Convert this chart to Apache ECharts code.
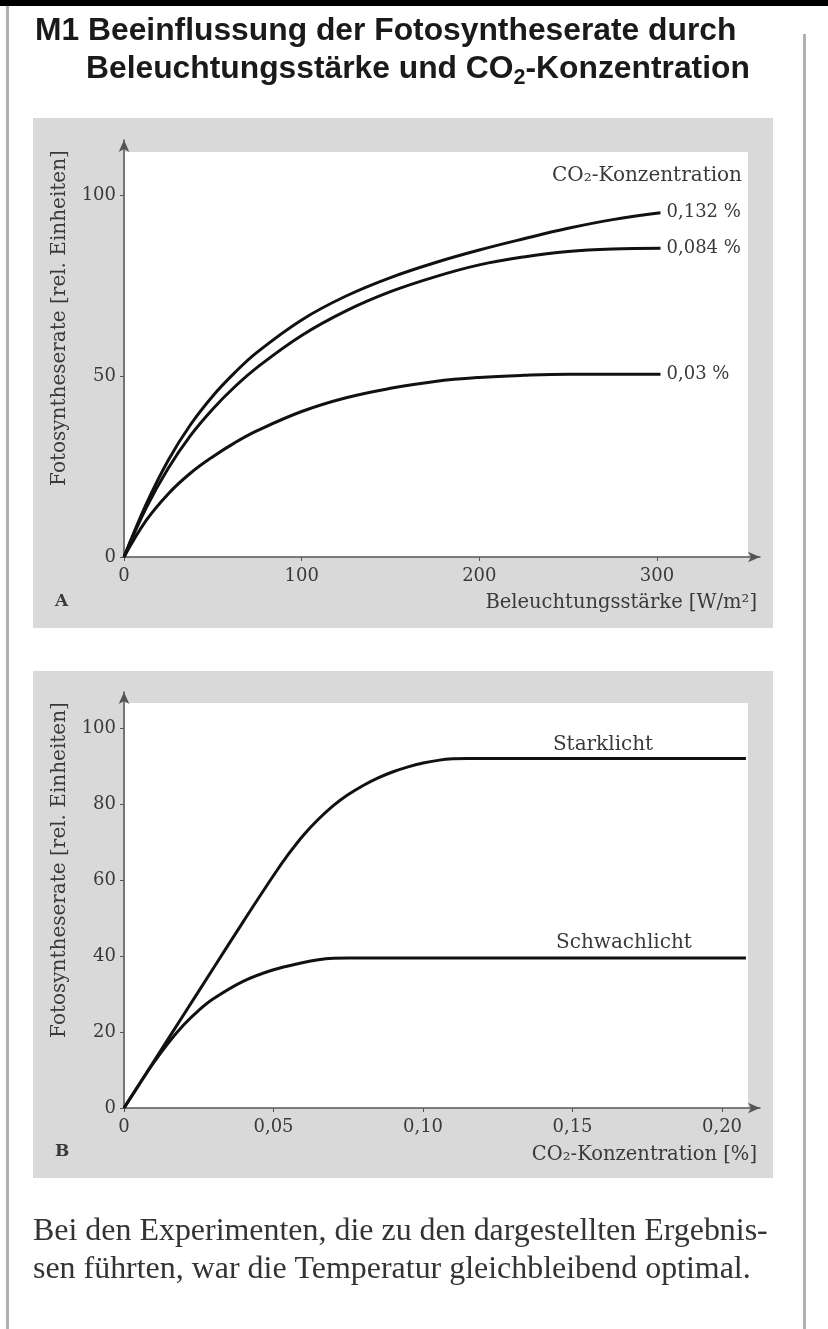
<!DOCTYPE html>
<html><head><meta charset="utf-8">
<script src="https://cdn.jsdelivr.net/npm/echarts@6/dist/echarts.min.js"></script>
<style>html,body{margin:0;padding:0;background:#fff}#c{width:828px;height:1329px}</style>
</head><body><div id="c"></div>
<script>
// ---- Data: chart A (light intensity) ----
const irradiance = [0, 12.5, 25, 37.5, 50, 62.5, 75, 100, 125, 150, 175, 200, 225, 250, 275, 302];
const rateCO2_0132 = [0, 14.6, 26.8, 36.6, 44.5, 51, 56.6, 65.5, 72.1, 77.2, 81.3, 84.8, 87.9, 90.8, 93.2, 95.1];
const rateCO2_0084 = [0, 13.6, 24.6, 33.6, 40.9, 47.1, 52.4, 61.2, 68, 73.3, 77.4, 80.7, 82.9, 84.4, 85.1, 85.3];
const rateCO2_003  = [0, 10.1, 17.5, 23.2, 27.7, 31.6, 34.9, 40.2, 44, 46.6, 48.5, 49.6, 50.2, 50.5, 50.5, 50.5];
const namesA = ['0,132 %', '0,084 %', '0,03 %'];
const ticksAx = [0, 100, 200, 300];
const ticksAy = [0, 50, 100];

// ---- Data: chart B (CO2 concentration) ----
const co2Strong  = [0, 0.01, 0.02, 0.03, 0.04, 0.05, 0.055, 0.06, 0.065, 0.07, 0.075, 0.08, 0.085, 0.09, 0.095, 0.1, 0.105, 0.11, 0.115, 0.15, 0.208];
const rateStrong = [0, 12.3, 24.6, 36.9, 49.2, 61.2, 66.8, 71.8, 76, 79.6, 82.5, 84.9, 86.9, 88.5, 89.8, 90.8, 91.5, 91.9, 92, 92, 92];
const co2Weak    = [0, 0.005, 0.01, 0.015, 0.02, 0.025, 0.03, 0.04, 0.05, 0.06, 0.065, 0.07, 0.075, 0.15, 0.208];
const rateWeak   = [0, 6.1, 12, 17.3, 21.9, 25.7, 28.8, 33.4, 36.4, 38.3, 39.0, 39.4, 39.5, 39.5, 39.5];
const namesB = ['Starklicht', 'Schwachlicht'];
const ticksBx = [0, 0.05, 0.10, 0.15, 0.20];
const ticksBy = [0, 20, 40, 60, 80, 100];

const serif = 'DejaVu Serif';
const sans = 'Liberation Sans';
const axisColor = '#555';
const txt = '#3a3a3a';
const lineCol = '#111';

function zip(xs, ys) { return xs.map((x, i) => [x, ys[i]]); }
const ctx = document.createElement('canvas').getContext('2d');
function measure(text, font) { ctx.font = font; return ctx.measureText(text).width; }

function axis(gridIndex, min, max, ticks, fmt, isX) {
  return {
    type: 'value', gridIndex, min, max,
    axisLine: { show: true, lineStyle: { color: axisColor, width: 1.5 }, symbol: ['none', 'arrow'], symbolSize: [8, 12] },
    axisTick: { show: true, customValues: ticks, length: 4, lineStyle: { color: axisColor, width: 1 } },
    axisLabel: { customValues: ticks, formatter: fmt, margin: isX ? 10 : 8, fontFamily: serif, fontSize: 18, color: txt },
    splitLine: { show: false }
  };
}
const fmtInt = v => String(v);
const fmtB = v => v === 0 ? '0' : v.toFixed(2).replace('.', ',');

const lineBase = { type: 'line', symbol: 'none', smooth: 0.4, lineStyle: { color: lineCol, width: 3 }, silent: true };

const seriesA = [rateCO2_0132, rateCO2_0084, rateCO2_003].map((ys, i) => Object.assign({}, lineBase, {
  name: namesA[i], xAxisIndex: 0, yAxisIndex: 0, data: zip(irradiance, ys),
  endLabel: { show: true, formatter: '{a}', distance: 6, fontFamily: serif, fontSize: 18, color: txt }
}));
const seriesB = [
  Object.assign({}, lineBase, { name: namesB[0], xAxisIndex: 1, yAxisIndex: 1, data: zip(co2Strong, rateStrong),
    markPoint: { silent: true, symbol: 'rect', symbolSize: 0, data: [{ coord: [0.1602, 92] }],
      label: { show: true, position: 'top', distance: 4, formatter: namesB[0], fontFamily: serif, fontSize: 20, color: txt } } }),
  Object.assign({}, lineBase, { name: namesB[1], xAxisIndex: 1, yAxisIndex: 1, data: zip(co2Weak, rateWeak),
    markPoint: { silent: true, symbol: 'rect', symbolSize: 0, data: [{ coord: [0.1672, 39.5] }],
      label: { show: true, position: 'top', distance: 5, formatter: namesB[1], fontFamily: serif, fontSize: 20, color: txt } } })
];

const T = (x, y, text, style, extra) => Object.assign({ type: 'text', x, y, z: 100, silent: true,
  style: Object.assign({ text, fill: txt, fontFamily: serif, fontSize: 18, textVerticalAlign: 'middle' }, style) }, extra || {});
const R = (x, y, w, h, fill, z) => ({ type: 'rect', z: z, silent: true, shape: { x, y, width: w, height: h }, style: { fill } });

// Title line 2 with a real subscript "2"
const tSize = 31.8, subSize = 21.5;
const titleFont = 'bold ' + tSize + 'px "Liberation Sans"';
const t2a = 'Beleuchtungsstärke und CO', t2b = '2', t2c = '-Konzentration';
const w2a = measure(t2a, titleFont);
const w2b = measure(t2b, 'bold ' + subSize + 'px "Liberation Sans"');
const titleStyle = { fontFamily: sans, fontWeight: 'bold', fontSize: tSize, fill: '#1a1a1a' };

const graphic = [
  R(0, 0, 828, 1329, '#ffffff', -30),
  R(0, 0, 828, 6, '#000000', -20),
  R(6, 6, 3, 1323, '#b0b0b0', -20),
  R(803, 34, 3, 1295, '#b0b0b0', -20),
  R(33, 118, 740, 510, '#d9d9d9', -20),
  R(125, 152, 623, 405, '#ffffff', -15),
  R(33, 671, 740, 507, '#d9d9d9', -20),
  R(125, 703, 623, 405, '#ffffff', -15),
  T(35, 31, 'M1 Beeinflussung der Fotosyntheserate durch', titleStyle),
  T(86, 69, t2a, titleStyle),
  T(86 + w2a, 78, t2b, Object.assign({}, titleStyle, { fontSize: subSize })),
  T(86 + w2a + w2b, 69, t2c, titleStyle),
  T(742, 176, 'CO₂-Konzentration', { textAlign: 'right', fontSize: 20 }),
  T(60, 318, 'Fotosyntheserate [rel. Einheiten]', { textAlign: 'center', fontSize: 20 }, { rotation: Math.PI / 2 }),
  T(60, 870, 'Fotosyntheserate [rel. Einheiten]', { textAlign: 'center', fontSize: 20 }, { rotation: Math.PI / 2 }),
  T(757, 603, 'Beleuchtungsstärke [W/m²]', { textAlign: 'right', fontSize: 19.5 }),
  T(757, 1155, 'CO₂-Konzentration [%]', { textAlign: 'right', fontSize: 19.5 }),
  T(55, 602, 'A', { fontWeight: 'bold', fontSize: 17 }),
  T(55, 1152, 'B', { fontWeight: 'bold', fontSize: 17 }),
  T(33, 1232, 'Bei den Experimenten, die zu den dargestellten Ergebnis-', { fontFamily: 'Liberation Serif', fontSize: 31, fill: '#333' }, { scaleX: 1.03 }),
  T(33, 1270, 'sen führten, war die Temperatur gleichbleibend optimal.', { fontFamily: 'Liberation Serif', fontSize: 31, fill: '#333' }, { scaleX: 1.03 })
];

const chart = echarts.init(document.getElementById('c'), null, { renderer: 'canvas' });
chart.setOption({
  animation: false,
  backgroundColor: '#fff',
  graphic,
  grid: [
    { left: 124, top: 140, width: 636, height: 417 },
    { left: 124, top: 692, width: 636, height: 416 }
  ],
  xAxis: [axis(0, 0, 358, ticksAx, fmtInt, true), axis(1, 0, 0.2127, ticksBx, fmtB, true)],
  yAxis: [axis(0, 0, 115.2, ticksAy, fmtInt, false), axis(1, 0, 109.5, ticksBy, fmtInt, false)],
  series: seriesA.concat(seriesB)
});
</script></body></html>
